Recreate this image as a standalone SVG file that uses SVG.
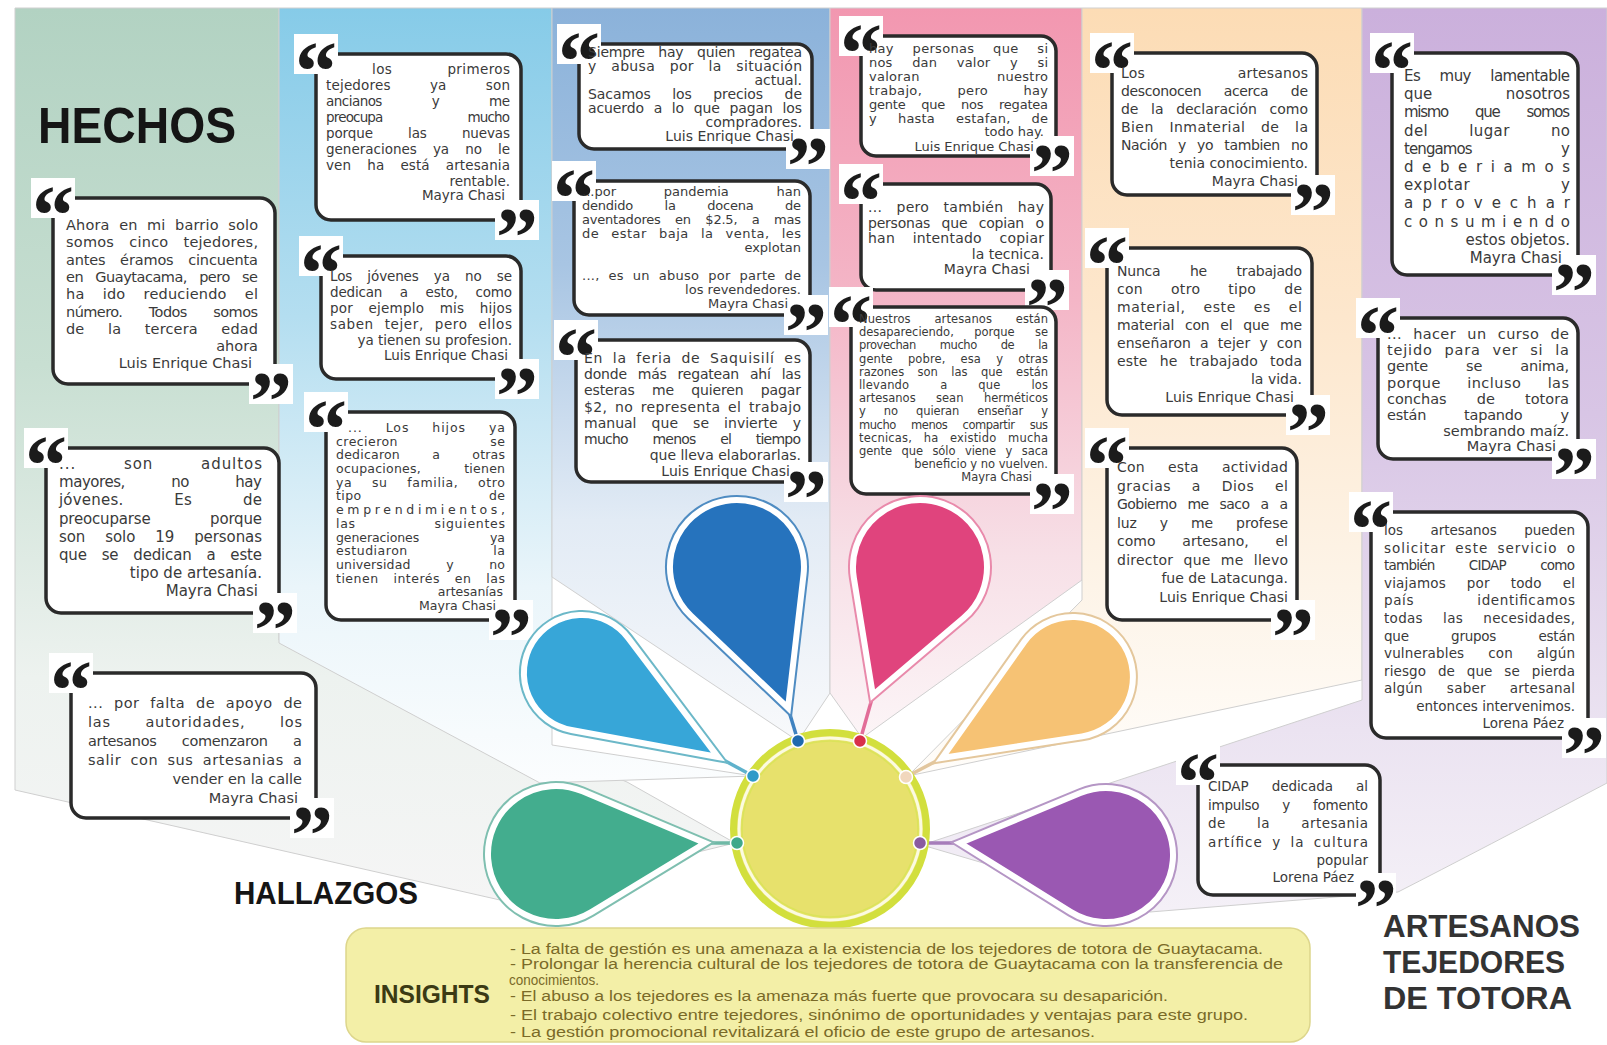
<svg xmlns="http://www.w3.org/2000/svg" width="1607" height="1045" viewBox="0 0 1607 1045">
<defs>
<linearGradient id="g1" gradientUnits="userSpaceOnUse" x1="0" y1="8" x2="0" y2="900"><stop offset="0" stop-color="#b2d2c2"/><stop offset="0.4" stop-color="#c8dfd2"/><stop offset="0.75" stop-color="#edf2ef"/><stop offset="1" stop-color="#f5f5f5"/></linearGradient>
<linearGradient id="g2" gradientUnits="userSpaceOnUse" x1="0" y1="8" x2="0" y2="780"><stop offset="0" stop-color="#86cbe8"/><stop offset="0.4" stop-color="#b4def0"/><stop offset="0.75" stop-color="#eaf5fa"/><stop offset="1" stop-color="#fbfdfe"/></linearGradient>
<linearGradient id="g3" gradientUnits="userSpaceOnUse" x1="0" y1="8" x2="0" y2="740"><stop offset="0" stop-color="#8bb2da"/><stop offset="0.35" stop-color="#a8c5e3"/><stop offset="0.7" stop-color="#e2ebf5"/><stop offset="1" stop-color="#f8f9fb"/></linearGradient>
<linearGradient id="g4" gradientUnits="userSpaceOnUse" x1="0" y1="8" x2="0" y2="740"><stop offset="0" stop-color="#f297b0"/><stop offset="0.4" stop-color="#f4b6c7"/><stop offset="0.75" stop-color="#f7e0e7"/><stop offset="1" stop-color="#fcf5f7"/></linearGradient>
<linearGradient id="g5" gradientUnits="userSpaceOnUse" x1="0" y1="8" x2="0" y2="780"><stop offset="0" stop-color="#fcdcb5"/><stop offset="0.4" stop-color="#fde7cd"/><stop offset="0.75" stop-color="#fdf4e8"/><stop offset="1" stop-color="#fffdfa"/></linearGradient>
<linearGradient id="g6" gradientUnits="userSpaceOnUse" x1="0" y1="8" x2="0" y2="910"><stop offset="0" stop-color="#cbb0dc"/><stop offset="0.45" stop-color="#d8c5e5"/><stop offset="0.8" stop-color="#ebe3f1"/><stop offset="1" stop-color="#f4f0f7"/></linearGradient>
</defs>
<style>
.col{stroke:#cfcfcf;stroke-width:1}
.bx{fill:#fff;stroke:#2a2a2a;stroke-width:3.5}
.wq{fill:#fff}
.qm{font-family:"Liberation Serif","DejaVu Serif",serif;font-weight:bold;font-size:84px;fill:#1b1b1b;text-anchor:middle}
.tx text{font-family:"DejaVu Sans","Liberation Sans",sans-serif;fill:#3a3a3a}
.tx text.r{text-anchor:end}
.ttl{font-family:"Liberation Sans","DejaVu Sans",sans-serif;font-weight:bold;fill:#151515}
.ins{font-family:"Liberation Sans","DejaVu Sans",sans-serif;font-size:14px;fill:#7a6a28}
.po{fill:none;stroke-width:10;stroke-linejoin:miter}
.pi{stroke:#fff;stroke-width:6;stroke-linejoin:miter}
.cn{stroke-width:3.5;fill:none}
.dot{stroke:#fff;stroke-width:1.5}
</style>

<g id="background">
<path class="col" fill="url(#g1)" d="M15,8 H279 V640 L627,782 L735,843 L500,900 L15,790 Z"/>
<path class="col" fill="url(#g2)" d="M279,8 H552 V745 L753,776 L540,783 L279,643 Z"/>
<path class="col" fill="url(#g3)" d="M552,8 H830 V693 L798,741 L552,577 Z"/>
<path class="col" fill="url(#g4)" d="M830,8 H1082 V580 L862,738 L830,693 Z"/>
<path class="col" fill="url(#g5)" d="M1082,8 H1362 V680 L908,776 L1082,600 Z"/>
<path class="col" fill="url(#g6)" d="M1362,8 H1607 V783 Q1480,850 1398,892 L1150,912 L922,845 L1362,700 Z"/>
</g>

<text class="ttl" x="38" y="143" font-size="50" textLength="198" lengthAdjust="spacingAndGlyphs">HECHOS</text>
<text class="ttl" x="234" y="904" font-size="31" textLength="184" lengthAdjust="spacingAndGlyphs">HALLAZGOS</text>
<g id="title">
<text class="ttl" x="1383" y="937" font-size="32" style="fill:#333" textLength="197" lengthAdjust="spacingAndGlyphs">ARTESANOS</text>
<text class="ttl" x="1383" y="973" font-size="32" style="fill:#333" textLength="182" lengthAdjust="spacingAndGlyphs">TEJEDORES</text>
<text class="ttl" x="1383" y="1009" font-size="32" style="fill:#333" textLength="189" lengthAdjust="spacingAndGlyphs">DE TOTORA</text>
</g>

<!-- Column 1 -->
<g id="c1b1">
<rect class="bx" x="53" y="198" width="222" height="186" rx="15"/>
<rect class="wq" x="31" y="178" width="44" height="40"/><text class="qm" x="53" y="244">“</text>
<rect class="wq" x="249" y="364" width="44" height="40"/><text class="qm" x="271" y="430">”</text>
<g class="tx" font-size="14.5">
<text x="66" y="230" word-spacing="4.8" textLength="192" lengthAdjust="spacing">Ahora en mi barrio solo</text>
<text x="66" y="247" word-spacing="10.2" textLength="192" lengthAdjust="spacing">somos cinco tejedores,</text>
<text x="66" y="265" word-spacing="10.2" textLength="192" lengthAdjust="spacing">antes éramos cincuenta</text>
<text x="66" y="282" word-spacing="8" textLength="192" lengthAdjust="spacing">en Guaytacama, pero se</text>
<text x="66" y="299" word-spacing="13.4" textLength="192" lengthAdjust="spacing">ha ido reduciendo el</text>
<text x="66" y="317" word-spacing="22.4" textLength="192" lengthAdjust="spacing">número. Todos somos</text>
<text x="66" y="334" word-spacing="18.8" textLength="192" lengthAdjust="spacing">de la tercera edad</text>
<text class="r" x="258" y="351">ahora</text>
<text class="r" x="252" y="368">Luis Enrique Chasi</text>
</g>
</g>

<g id="c1b2">
<rect class="bx" x="46" y="448" width="233" height="165" rx="15"/>
<rect class="wq" x="24" y="428" width="44" height="40"/><text class="qm" x="46" y="494">“</text>
<rect class="wq" x="253" y="593" width="44" height="40"/><text class="qm" x="275" y="659">”</text>
<g class="tx" font-size="15">
<text x="59" y="469" word-spacing="42" textLength="203" lengthAdjust="spacing">... son adultos</text>
<text x="59" y="487" word-spacing="42" textLength="203" lengthAdjust="spacing">mayores, no hay</text>
<text x="59" y="505" word-spacing="46" textLength="203" lengthAdjust="spacing">jóvenes. Es de</text>
<text x="59" y="524" word-spacing="55" textLength="203" lengthAdjust="spacing">preocuparse porque</text>
<text x="59" y="542" word-spacing="15.3" textLength="203" lengthAdjust="spacing">son solo 19 personas</text>
<text x="59" y="560" word-spacing="10.3" textLength="203" lengthAdjust="spacing">que se dedican a este</text>
<text class="r" x="262" y="578">tipo de artesanía.</text>
<text class="r" x="258" y="596">Mayra Chasi</text>
</g>
</g>

<g id="c1b3">
<rect class="bx" x="71" y="673" width="245" height="145" rx="15"/>
<rect class="wq" x="49" y="653" width="44" height="40"/><text class="qm" x="71" y="719">“</text>
<rect class="wq" x="290" y="798" width="44" height="40"/><text class="qm" x="312" y="864">”</text>
<g class="tx" font-size="14.5">
<text x="88" y="708" word-spacing="5.7" textLength="214" lengthAdjust="spacing">... por falta de apoyo de</text>
<text x="88" y="727" word-spacing="29.3" textLength="214" lengthAdjust="spacing">las autoridades, los</text>
<text x="88" y="746" word-spacing="21.2" textLength="214" lengthAdjust="spacing">artesanos comenzaron a</text>
<text x="88" y="765" word-spacing="4.2" textLength="214" lengthAdjust="spacing">salir con sus artesanias a</text>
<text class="r" x="302" y="784">vender en la calle</text>
<text class="r" x="298" y="803">Mayra Chasi</text>
</g>
</g>

<!-- Column 2 -->
<g id="c2b1">
<rect class="bx" x="316" y="54" width="205" height="166" rx="15"/>
<rect class="wq" x="294" y="34" width="44" height="40"/><text class="qm" x="316" y="100">“</text>
<rect class="wq" x="495" y="200" width="44" height="40"/><text class="qm" x="517" y="266">”</text>
<g class="tx" font-size="13.5">
<text x="372" y="74" word-spacing="50.5" textLength="138" lengthAdjust="spacing">los primeros</text>
<text x="326" y="90" word-spacing="34.8" textLength="184" lengthAdjust="spacing">tejedores ya son</text>
<text x="326" y="106" word-spacing="46.1" textLength="184" lengthAdjust="spacing">ancianos y me</text>
<text x="326" y="122" word-spacing="81.4" textLength="184" lengthAdjust="spacing">preocupa mucho</text>
<text x="326" y="138" word-spacing="31" textLength="184" lengthAdjust="spacing">porque las nuevas</text>
<text x="326" y="154" word-spacing="11.7" textLength="184" lengthAdjust="spacing">generaciones ya no le</text>
<text x="326" y="170" word-spacing="11.7" textLength="184" lengthAdjust="spacing">ven ha está artesania</text>
<text class="r" x="510" y="186">rentable.</text>
<text class="r" x="505" y="200">Mayra Chasi</text>
</g>
</g>

<g id="c2b2">
<rect class="bx" x="321" y="256" width="200" height="123" rx="15"/>
<rect class="wq" x="299" y="236" width="44" height="40"/><text class="qm" x="321" y="302">“</text>
<rect class="wq" x="495" y="359" width="44" height="40"/><text class="qm" x="517" y="425">”</text>
<g class="tx" font-size="13.5">
<text x="330" y="281" word-spacing="11" textLength="182" lengthAdjust="spacing">Los jóvenes ya no se</text>
<text x="330" y="297" word-spacing="13.5" textLength="182" lengthAdjust="spacing">dedican a esto, como</text>
<text x="330" y="313" word-spacing="11" textLength="182" lengthAdjust="spacing">por ejemplo mis hijos</text>
<text x="330" y="329" word-spacing="6" textLength="182" lengthAdjust="spacing">saben tejer, pero ellos</text>
<text class="r" x="512" y="345">ya tienen su profesion.</text>
<text class="r" x="508" y="360">Luis Enrique Chasi</text>
</g>
</g>

<g id="c2b3">
<rect class="bx" x="326" y="412" width="189" height="208" rx="15"/>
<rect class="wq" x="304" y="392" width="44" height="40"/><text class="qm" x="326" y="458">“</text>
<rect class="wq" x="489" y="600" width="44" height="40"/><text class="qm" x="511" y="666">”</text>
<g class="tx" font-size="12.5">
<text x="348" y="432" word-spacing="18" textLength="157" lengthAdjust="spacing">... Los hijos ya</text>
<text x="336" y="446" word-spacing="88" textLength="169" lengthAdjust="spacing">crecieron se</text>
<text x="336" y="459" word-spacing="28" textLength="169" lengthAdjust="spacing">dedicaron a otras</text>
<text x="336" y="473" word-spacing="39" textLength="169" lengthAdjust="spacing">ocupaciones, tienen</text>
<text x="336" y="487" word-spacing="15" textLength="169" lengthAdjust="spacing">ya su familia, otro</text>
<text x="336" y="500" word-spacing="123" textLength="169" lengthAdjust="spacing">tipo de</text>
<text x="336" y="514" textLength="169" lengthAdjust="spacing">emprendimientos,</text>
<text x="336" y="528" word-spacing="74" textLength="169" lengthAdjust="spacing">las siguientes</text>
<text x="336" y="542" word-spacing="67" textLength="169" lengthAdjust="spacing">generaciones ya</text>
<text x="336" y="555" word-spacing="81" textLength="169" lengthAdjust="spacing">estudiaron la</text>
<text x="336" y="569" word-spacing="31.5" textLength="169" lengthAdjust="spacing">universidad y no</text>
<text x="336" y="583" word-spacing="10.4" textLength="169" lengthAdjust="spacing">tienen interés en las</text>
<text class="r" x="503" y="596">artesanías</text>
<text class="r" x="496" y="610">Mayra Chasi</text>
</g>
</g>

<!-- Column 3 -->
<g id="c3b1">
<rect class="bx" x="579" y="44" width="233" height="105" rx="15"/>
<rect class="wq" x="557" y="24" width="44" height="40"/><text class="qm" x="579" y="90">“</text>
<rect class="wq" x="786" y="129" width="44" height="40"/><text class="qm" x="808" y="195">”</text>
<g class="tx" font-size="14">
<text x="588" y="57" word-spacing="9.4" textLength="214" lengthAdjust="spacing">Siempre hay quien regatea</text>
<text x="588" y="71" word-spacing="9.9" textLength="214" lengthAdjust="spacing">y abusa por la situación</text>
<text class="r" x="802" y="85">actual.</text>
<text x="588" y="99" word-spacing="17.2" textLength="214" lengthAdjust="spacing">Sacamos los precios de</text>
<text x="588" y="113" word-spacing="5.4" textLength="214" lengthAdjust="spacing">acuerdo a lo que pagan los</text>
<text class="r" x="802" y="127">compradores.</text>
<text class="r" x="794" y="141">Luis Enrique Chasi</text>
</g>
</g>

<g id="c3b2">
<rect class="bx" x="574" y="181" width="236" height="134" rx="15"/>
<rect class="wq" x="552" y="161" width="44" height="40"/><text class="qm" x="574" y="227">“</text>
<rect class="wq" x="784" y="295" width="44" height="40"/><text class="qm" x="806" y="361">”</text>
<g class="tx" font-size="13">
<text x="582" y="196" word-spacing="43.5" textLength="219" lengthAdjust="spacing">...por pandemia han</text>
<text x="582" y="210" word-spacing="27.6" textLength="219" lengthAdjust="spacing">dendido la docena de</text>
<text x="582" y="224" word-spacing="10.6" textLength="219" lengthAdjust="spacing">aventadores en $2.5, a mas</text>
<text x="582" y="238" word-spacing="7.6" textLength="219" lengthAdjust="spacing">de estar baja la venta, les</text>
<text class="r" x="801" y="252">explotan</text>
<text x="582" y="280" word-spacing="4.5" textLength="219" lengthAdjust="spacing">..., es un abuso por parte de</text>
<text class="r" x="801" y="294">los revendedores.</text>
<text class="r" x="788" y="308">Mayra Chasi</text>
</g>
</g>

<g id="c3b3">
<rect class="bx" x="576" y="340" width="234" height="142" rx="15"/>
<rect class="wq" x="554" y="320" width="44" height="40"/><text class="qm" x="576" y="386">“</text>
<rect class="wq" x="784" y="462" width="44" height="40"/><text class="qm" x="806" y="528">”</text>
<g class="tx" font-size="14">
<text x="584" y="363" word-spacing="4.4" textLength="217" lengthAdjust="spacing">En la feria de Saquisilí es</text>
<text x="584" y="379" word-spacing="6.7" textLength="217" lengthAdjust="spacing">donde más regatean ahí las</text>
<text x="584" y="395" word-spacing="13" textLength="217" lengthAdjust="spacing">esteras me quieren pagar</text>
<text x="584" y="412" word-spacing="2.7" textLength="217" lengthAdjust="spacing">$2, no representa el trabajo</text>
<text x="584" y="428" word-spacing="10.6" textLength="217" lengthAdjust="spacing">manual que se invierte y</text>
<text x="584" y="444" word-spacing="20.8" textLength="217" lengthAdjust="spacing">mucho menos el tiempo</text>
<text class="r" x="801" y="460">que lleva elaborarlas.</text>
<text class="r" x="790" y="476">Luis Enrique Chasi</text>
</g>
</g>

<!-- Column 4 -->
<g id="c4b1">
<rect class="bx" x="861" y="36" width="195" height="120" rx="15"/>
<rect class="wq" x="839" y="16" width="44" height="40"/><text class="qm" x="861" y="82">“</text>
<rect class="wq" x="1030" y="136" width="44" height="40"/><text class="qm" x="1052" y="202">”</text>
<g class="tx" font-size="13">
<text x="869" y="53" word-spacing="14.3" textLength="179" lengthAdjust="spacing">hay personas que si</text>
<text x="869" y="67" word-spacing="15.2" textLength="179" lengthAdjust="spacing">nos dan valor y si</text>
<text x="869" y="81" word-spacing="73" textLength="179" lengthAdjust="spacing">valoran nuestro</text>
<text x="869" y="95" word-spacing="30.8" textLength="179" lengthAdjust="spacing">trabajo, pero hay</text>
<text x="869" y="109" word-spacing="11.9" textLength="179" lengthAdjust="spacing">gente que nos regatea</text>
<text x="869" y="123" word-spacing="16.7" textLength="179" lengthAdjust="spacing">y hasta estafan, de</text>
<text class="r" x="1044" y="136">todo hay.</text>
<text class="r" x="1034" y="151">Luis Enrique Chasi</text>
</g>
</g>

<g id="c4b2">
<rect class="bx" x="861" y="184" width="190" height="106" rx="15"/>
<rect class="wq" x="839" y="164" width="44" height="40"/><text class="qm" x="861" y="230">“</text>
<rect class="wq" x="1025" y="270" width="44" height="40"/><text class="qm" x="1047" y="336">”</text>
<g class="tx" font-size="14">
<text x="868" y="212" word-spacing="9.8" textLength="176" lengthAdjust="spacing">... pero también hay</text>
<text x="868" y="228" word-spacing="7.2" textLength="176" lengthAdjust="spacing">personas que copian o</text>
<text x="868" y="243" word-spacing="13" textLength="176" lengthAdjust="spacing">han intentado copiar</text>
<text class="r" x="1044" y="259">la tecnica.</text>
<text class="r" x="1030" y="274">Mayra Chasi</text>
</g>
</g>

<g id="c4b3">
<rect class="bx" x="851" y="307" width="205" height="187" rx="15"/>
<rect class="wq" x="829" y="287" width="44" height="40"/><text class="qm" x="851" y="353">“</text>
<rect class="wq" x="1030" y="474" width="44" height="40"/><text class="qm" x="1052" y="540">”</text>
<g class="tx" font-size="11.5">
<text x="859" y="323" word-spacing="20" textLength="189" lengthAdjust="spacing">Nuestros artesanos están</text>
<text x="859" y="336" word-spacing="16.8" textLength="189" lengthAdjust="spacing">desapareciendo, porque se</text>
<text x="859" y="349" word-spacing="20.7" textLength="189" lengthAdjust="spacing">provechan mucho de la</text>
<text x="859" y="363" word-spacing="11.4" textLength="189" lengthAdjust="spacing">gente pobre, esa y otras</text>
<text x="859" y="376" word-spacing="9.8" textLength="189" lengthAdjust="spacing">razones son las que están</text>
<text x="859" y="389" word-spacing="27.1" textLength="189" lengthAdjust="spacing">llevando a que los</text>
<text x="859" y="402" word-spacing="16.8" textLength="189" lengthAdjust="spacing">artesanos sean herméticos</text>
<text x="859" y="415" word-spacing="14.6" textLength="189" lengthAdjust="spacing">y no quieran enseñar y</text>
<text x="859" y="429" word-spacing="12.1" textLength="189" lengthAdjust="spacing">mucho menos compartir sus</text>
<text x="859" y="442" word-spacing="7.8" textLength="189" lengthAdjust="spacing">tecnicas, ha existido mucha</text>
<text x="859" y="455" word-spacing="5.8" textLength="189" lengthAdjust="spacing">gente que sólo viene y saca</text>
<text class="r" x="1048" y="468">beneficio y no vuelven.</text>
<text class="r" x="1032" y="481">Mayra Chasi</text>
</g>
</g>

<!-- Column 5 -->
<g id="c5b1">
<rect class="bx" x="1112" y="53" width="205" height="142" rx="15"/>
<rect class="wq" x="1090" y="33" width="44" height="40"/><text class="qm" x="1112" y="99">“</text>
<rect class="wq" x="1291" y="175" width="44" height="40"/><text class="qm" x="1313" y="241">”</text>
<g class="tx" font-size="14">
<text x="1121" y="78" word-spacing="88.4" textLength="187" lengthAdjust="spacing">Los artesanos</text>
<text x="1121" y="96" word-spacing="18.5" textLength="187" lengthAdjust="spacing">desconocen acerca de</text>
<text x="1121" y="114" word-spacing="8.2" textLength="187" lengthAdjust="spacing">de la declaración como</text>
<text x="1121" y="132" word-spacing="10.8" textLength="187" lengthAdjust="spacing">Bien Inmaterial de la</text>
<text x="1121" y="150" word-spacing="7" textLength="187" lengthAdjust="spacing">Nación y yo tambien no</text>
<text class="r" x="1308" y="168">tenia conocimiento.</text>
<text class="r" x="1298" y="186">Mayra Chasi</text>
</g>
</g>

<g id="c5b2">
<rect class="bx" x="1107" y="248" width="205" height="167" rx="15"/>
<rect class="wq" x="1085" y="228" width="44" height="40"/><text class="qm" x="1107" y="294">“</text>
<rect class="wq" x="1286" y="395" width="44" height="40"/><text class="qm" x="1308" y="461">”</text>
<g class="tx" font-size="14">
<text x="1117" y="276" word-spacing="25.4" textLength="185" lengthAdjust="spacing">Nunca he trabajado</text>
<text x="1117" y="294" word-spacing="23.2" textLength="185" lengthAdjust="spacing">con otro tipo de</text>
<text x="1117" y="312" word-spacing="12.8" textLength="185" lengthAdjust="spacing">material, este es el</text>
<text x="1117" y="330" word-spacing="6.5" textLength="185" lengthAdjust="spacing">material con el que me</text>
<text x="1117" y="348" word-spacing="4.6" textLength="185" lengthAdjust="spacing">enseñaron a tejer y con</text>
<text x="1117" y="366" word-spacing="7.5" textLength="185" lengthAdjust="spacing">este he trabajado toda</text>
<text class="r" x="1302" y="384">la vida.</text>
<text class="r" x="1294" y="402">Luis Enrique Chasi</text>
</g>
</g>

<g id="c5b3">
<rect class="bx" x="1107" y="448" width="190" height="172" rx="15"/>
<rect class="wq" x="1085" y="428" width="44" height="40"/><text class="qm" x="1107" y="494">“</text>
<rect class="wq" x="1271" y="600" width="44" height="40"/><text class="qm" x="1293" y="666">”</text>
<g class="tx" font-size="14">
<text x="1117" y="472" word-spacing="18.4" textLength="171" lengthAdjust="spacing">Con esta actividad</text>
<text x="1117" y="491" word-spacing="15.9" textLength="171" lengthAdjust="spacing">gracias a Dios el</text>
<text x="1117" y="509" word-spacing="7" textLength="171" lengthAdjust="spacing">Gobierno me saco a a</text>
<text x="1117" y="528" word-spacing="18.6" textLength="171" lengthAdjust="spacing">luz y me profese</text>
<text x="1117" y="546" word-spacing="22.3" textLength="171" lengthAdjust="spacing">como artesano, el</text>
<text x="1117" y="565" word-spacing="5.5" textLength="171" lengthAdjust="spacing">director que me llevo</text>
<text class="r" x="1288" y="583">fue de Latacunga.</text>
<text class="r" x="1288" y="602">Luis Enrique Chasi</text>
</g>
</g>

<!-- Column 6 -->
<g id="c6b1">
<rect class="bx" x="1392" y="53" width="186" height="222" rx="15"/>
<rect class="wq" x="1370" y="33" width="44" height="40"/><text class="qm" x="1392" y="99">“</text>
<rect class="wq" x="1552" y="255" width="44" height="40"/><text class="qm" x="1574" y="321">”</text>
<g class="tx" font-size="15">
<text x="1404" y="81" word-spacing="15.2" textLength="166" lengthAdjust="spacing">Es muy lamentable</text>
<text x="1404" y="99" word-spacing="68.8" textLength="166" lengthAdjust="spacing">que nosotros</text>
<text x="1404" y="117" word-spacing="23.6" textLength="166" lengthAdjust="spacing">mismo que somos</text>
<text x="1404" y="136" word-spacing="36" textLength="166" lengthAdjust="spacing">del lugar no</text>
<text x="1404" y="154" word-spacing="85.6" textLength="166" lengthAdjust="spacing">tengamos y</text>
<text x="1404" y="172" textLength="166" lengthAdjust="spacing">deberiamos</text>
<text x="1404" y="190" word-spacing="85.6" textLength="166" lengthAdjust="spacing">explotar y</text>
<text x="1404" y="208" textLength="166" lengthAdjust="spacing">aprovechar</text>
<text x="1404" y="227" textLength="166" lengthAdjust="spacing">consumiendo</text>
<text class="r" x="1570" y="245">estos objetos.</text>
<text class="r" x="1562" y="263">Mayra Chasi</text>
</g>
</g>

<g id="c6b2">
<rect class="bx" x="1378" y="318" width="200" height="141" rx="15"/>
<rect class="wq" x="1356" y="298" width="44" height="40"/><text class="qm" x="1378" y="364">“</text>
<rect class="wq" x="1552" y="439" width="44" height="40"/><text class="qm" x="1574" y="505">”</text>
<g class="tx" font-size="14.5">
<text x="1387" y="339" word-spacing="6.4" textLength="182" lengthAdjust="spacing">... hacer un curso de</text>
<text x="1387" y="355" word-spacing="6.4" textLength="182" lengthAdjust="spacing">tejido para ver si la</text>
<text x="1387" y="371" word-spacing="33.6" textLength="182" lengthAdjust="spacing">gente se anima,</text>
<text x="1387" y="388" word-spacing="21.4" textLength="182" lengthAdjust="spacing">porque incluso las</text>
<text x="1387" y="404" word-spacing="25.5" textLength="182" lengthAdjust="spacing">conchas de totora</text>
<text x="1387" y="420" word-spacing="33.6" textLength="182" lengthAdjust="spacing">están tapando y</text>
<text class="r" x="1569" y="436">sembrando maíz.</text>
<text class="r" x="1556" y="451">Mayra Chasi</text>
</g>
</g>

<g id="c6b3">
<rect class="bx" x="1371" y="512" width="217" height="226" rx="15"/>
<rect class="wq" x="1349" y="492" width="44" height="40"/><text class="qm" x="1371" y="558">“</text>
<rect class="wq" x="1562" y="718" width="44" height="40"/><text class="qm" x="1584" y="784">”</text>
<g class="tx" font-size="13.5">
<text x="1384" y="535" word-spacing="23.2" textLength="191" lengthAdjust="spacing">los artesanos pueden</text>
<text x="1384" y="553" word-spacing="3.9" textLength="191" lengthAdjust="spacing">solicitar este servicio o</text>
<text x="1384" y="570" word-spacing="30.7" textLength="191" lengthAdjust="spacing">también CIDAP como</text>
<text x="1384" y="588" word-spacing="16.5" textLength="191" lengthAdjust="spacing">viajamos por todo el</text>
<text x="1384" y="605" word-spacing="58.2" textLength="191" lengthAdjust="spacing">país identificamos</text>
<text x="1384" y="623" word-spacing="15.6" textLength="191" lengthAdjust="spacing">todas las necesidades,</text>
<text x="1384" y="641" word-spacing="38.3" textLength="191" lengthAdjust="spacing">que grupos están</text>
<text x="1384" y="658" word-spacing="19.4" textLength="191" lengthAdjust="spacing">vulnerables con algún</text>
<text x="1384" y="676" word-spacing="7.5" textLength="191" lengthAdjust="spacing">riesgo de que se pierda</text>
<text x="1384" y="693" word-spacing="19.4" textLength="191" lengthAdjust="spacing">algún saber artesanal</text>
<text class="r" x="1575" y="711">entonces intervenimos.</text>
<text class="r" x="1564" y="728">Lorena Páez</text>
</g>
</g>

<g id="c6b4">
<rect class="bx" x="1198" y="765" width="182" height="130" rx="15"/>
<rect class="wq" x="1176" y="745" width="44" height="40"/><text class="qm" x="1198" y="811">“</text>
<rect class="wq" x="1356" y="873" width="40" height="36"/><text class="qm" x="1376" y="937" font-size="76">”</text>
<g class="tx" font-size="13.5">
<text x="1208" y="791" word-spacing="19" textLength="160" lengthAdjust="spacing">CIDAP dedicada al</text>
<text x="1208" y="810" word-spacing="19" textLength="160" lengthAdjust="spacing">impulso y fomento</text>
<text x="1208" y="828" word-spacing="26.6" textLength="160" lengthAdjust="spacing">de la artesania</text>
<text x="1208" y="847" word-spacing="3.7" textLength="160" lengthAdjust="spacing">artífice y la cultura</text>
<text class="r" x="1368" y="865">popular</text>
<text class="r" x="1354" y="882">Lorena Páez</text>
</g>
</g>

<!-- Connectors -->
<g id="connectors">
<line class="cn" stroke="#6fb9a6" x1="705" y1="843" x2="737" y2="843"/>
<line class="cn" stroke="#5fb2cc" x1="718" y1="757" x2="753" y2="776"/>
<line class="cn" stroke="#3f82c0" x1="788" y1="708" x2="798" y2="741"/>
<line class="cn" stroke="#e26d98" x1="873" y1="695" x2="860" y2="741"/>
<line class="cn" stroke="#e2c69e" x1="942" y1="758" x2="906" y2="777"/>
<line class="cn" stroke="#a67cba" x1="960" y1="843" x2="920" y2="843"/>
</g>

<!-- Petals -->
<g id="petal-teal" transform="translate(556,854) rotate(-4.2)">
<path class="po" stroke="#7fbfb0" d="M149.4,0 L30.95,60.55 A68,68 0 1 1 30.95,-60.55 Z"/>
<path class="pi" fill="#43ad8e" d="M149.4,0 L30.95,60.55 A68,68 0 1 1 30.95,-60.55 Z"/>
</g>
<g id="petal-cyan" transform="translate(582,673) rotate(31.7)">
<path class="po" stroke="#6cb8c8" d="M159.8,0 L21.05,54 A58,58 0 1 1 21.05,-54 Z"/>
<path class="pi" fill="#37a6d8" d="M159.8,0 L21.05,54 A58,58 0 1 1 21.05,-54 Z"/>
</g>
<g id="petal-blue" transform="translate(737,567) rotate(70.1)">
<path class="po" stroke="#4f8cc2" d="M149.9,0 L29.95,59.9 A67,67 0 1 1 29.95,-59.9 Z"/>
<path class="pi" fill="#2673bd" d="M149.9,0 L29.95,59.9 A67,67 0 1 1 29.95,-59.9 Z"/>
</g>
<g id="petal-pink" transform="translate(920,567) rotate(110.2)">
<path class="po" stroke="#e98aab" d="M136.4,0 L32.9,58.4 A67,67 0 1 1 32.9,-58.4 Z"/>
<path class="pi" fill="#e0447d" d="M136.4,0 L32.9,58.4 A67,67 0 1 1 32.9,-58.4 Z"/>
</g>
<g id="petal-orange" transform="translate(1073,677) rotate(148.3)">
<path class="po" stroke="#e4c79c" d="M154,0 L23.4,55.3 A60,60 0 1 1 23.4,-55.3 Z"/>
<path class="pi" fill="#f6c274" d="M154,0 L23.4,55.3 A60,60 0 1 1 23.4,-55.3 Z"/>
</g>
<g id="petal-purple" transform="translate(1106,855) rotate(184.7)">
<path class="po" stroke="#b596c5" d="M146.5,0 L30.6,59.6 A67,67 0 1 1 30.6,-59.6 Z"/>
<path class="pi" fill="#9a58b2" d="M146.5,0 L30.6,59.6 A67,67 0 1 1 30.6,-59.6 Z"/>
</g>

<g id="center">
<circle cx="830" cy="829" r="96.5" fill="#e7e16c" stroke="#d2df3d" stroke-width="7"/>
<circle cx="830" cy="829" r="91" fill="none" stroke="#fbfbe0" stroke-width="3"/>
<circle cx="830" cy="829" r="88" fill="none" stroke="#dbe35a" stroke-width="1.5"/>
</g>
<g id="dots">
<circle class="dot" cx="737" cy="843" r="6.5" fill="#3fa88a"/>
<circle class="dot" cx="753" cy="776" r="6.5" fill="#2f9ac8"/>
<circle class="dot" cx="798" cy="741" r="6.5" fill="#1f6aae"/>
<circle class="dot" cx="860" cy="741" r="6.5" fill="#d8304a"/>
<circle class="dot" cx="906" cy="777" r="6.5" fill="#f1d7bd"/>
<circle class="dot" cx="920" cy="843" r="6.5" fill="#8a5aa0"/>
</g>

<g id="insights">
<rect x="346" y="928" width="964" height="114" rx="20" fill="#f3efa7" stroke="#ddd68c" stroke-width="1.5"/>
<text class="ttl" x="374" y="1003" font-size="25" style="fill:#3b3a14" textLength="116" lengthAdjust="spacingAndGlyphs">INSIGHTS</text>
<text class="ins" x="510" y="954" textLength="753" lengthAdjust="spacingAndGlyphs">- La falta de gestión es una amenaza a la existencia de los tejedores de totora de Guaytacama.</text>
<text class="ins" x="510" y="969" textLength="773" lengthAdjust="spacingAndGlyphs">- Prolongar la herencia cultural de los tejedores de totora de Guaytacama con la transferencia de</text>
<text class="ins" x="509" y="985" textLength="90" lengthAdjust="spacingAndGlyphs">conocimientos.</text>
<text class="ins" x="510" y="1001" textLength="658" lengthAdjust="spacingAndGlyphs">- El abuso a los tejedores es la amenaza más fuerte que provocara su desaparición.</text>
<text class="ins" x="510" y="1020" textLength="738" lengthAdjust="spacingAndGlyphs">- El trabajo colectivo entre tejedores, sinónimo de oportunidades y ventajas para este grupo.</text>
<text class="ins" x="510" y="1037" textLength="585" lengthAdjust="spacingAndGlyphs">- La gestión promocional revitalizará el oficio de este grupo de artesanos.</text>
</g>
</svg>
